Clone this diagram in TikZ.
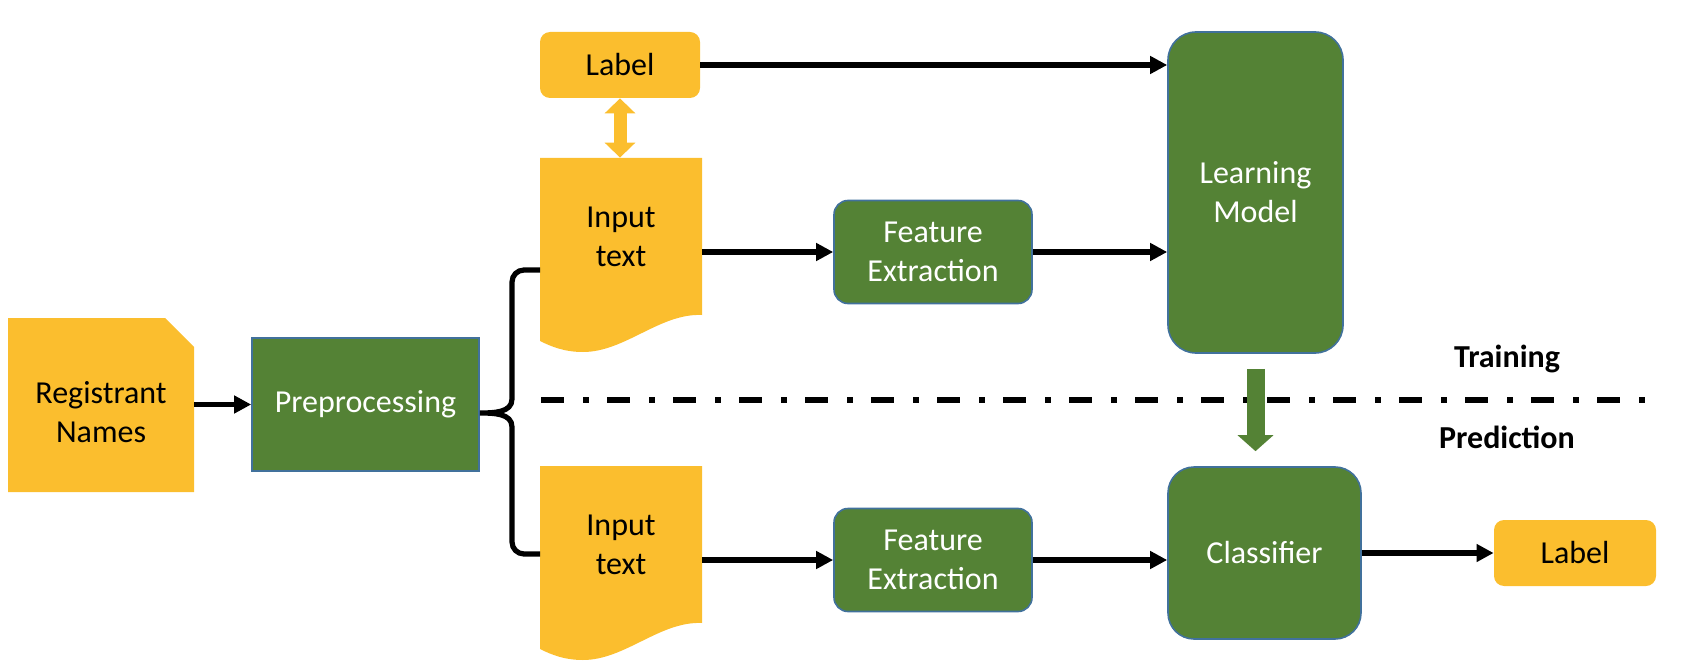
\documentclass[tikz,border=0pt]{standalone}
\usepackage{fontspec}
\setmainfont{Carlito}
\usetikzlibrary{positioning, arrows.meta}
\definecolor{docyellow}{HTML}{FBBE2E}
\definecolor{boxgreen}{HTML}{548235}
\definecolor{edgeblue}{HTML}{41719C}
\newcommand{\diagfont}{\fontsize{16}{19.5}\selectfont}

\begin{document}
\begin{tikzpicture}[x=0.5pt, y=-0.5pt, font=\diagfont]
        % Define styles for shapes
        \tikzstyle{greenbox} = [fill=boxgreen, draw=edgeblue, line width=0.8pt, text=white, align=center]
        \tikzstyle{yellowbox} = [fill=docyellow, rounded corners=5pt, minimum width=80pt, minimum height=33pt]
        \tikzstyle{textbox} = [align=center, inner sep=0pt, minimum width=81pt, minimum height=78.5pt]
        \tikzstyle{flow} = [-{Triangle[length=8.5pt, width=8.5pt]}, line width=2.6pt]
        \useasboundingbox (0,0) rectangle (1686,668);

        % Yellow documents behind the texts
        \fill[docyellow] (8,318) -- (165,318) -- (194,347) -- (194,492) -- (8,492) -- cycle;
        \foreach \y in {158, 466} {
            \fill[docyellow] (540,\y) -- (702,\y) -- (702,\y+157)
                .. controls (660,\y+155) and (625,\y+194) .. (583,\y+194)
                .. controls (565,\y+194) and (552,\y+189) .. (540,\y+183) -- cycle;
        }

        % Draw shapes
        \node[textbox, minimum width=93pt, minimum height=87pt] (names) at (101,412) {Registrant\\Names};
        \node[greenbox, minimum width=113.5pt, minimum height=66.5pt] (prep) at (365.5,404.5) {Preprocessing};
        \node[yellowbox] (label1) at (620,65) {Label};
        \node[textbox] (inTop) at (621,236.5) {Input\\text};
        \node[textbox] (inBot) at (621,544.5) {Input\\text};
        \node[greenbox, rounded corners=7pt, minimum width=99pt, minimum height=51.5pt] (feTop) at (933,252) {Feature\\Extraction};
        \node[greenbox, rounded corners=7pt, minimum width=99pt, minimum height=51.5pt] (feBot) at (933,560) {Feature\\Extraction};
        \node[greenbox, rounded corners=14pt, minimum width=87.5pt, minimum height=160.5pt] (lm) at (1255.5,192.5) {Learning\\Model};
        \node[greenbox, rounded corners=13pt, minimum width=96.5pt, minimum height=86pt] (clf) at (1264.5,553) {Classifier};
        \node[yellowbox, minimum width=81pt] (label2) at (1575,553) {Label};
        \node[font=\diagfont\bfseries] (train) at (1507,359) {Training};
        \node[font=\diagfont\bfseries] (pred) at (1507,437) {Prediction};

        % Training / prediction separator
        \draw[line width=2.8pt, dash pattern=on 11.5pt off 9.5pt on 3pt off 9pt] (541,400) -- (1645,400);

        % Draw arrows
        \draw[flow] (names.east |- prep) -- (prep);
        \draw[flow] (inTop.east |- feTop) -- (feTop);
        \draw[flow] (feTop) -- (feTop -| lm.west);
        \draw[flow] (label1) -- (label1 -| lm.west);
        \draw[flow] (inBot.east |- feBot) -- (feBot);
        \draw[flow] (feBot) -- (feBot -| clf.west);
        \draw[flow] (clf) -- (label2);
        \draw[docyellow, line width=6.5pt, {Triangle[length=7.5pt, width=15pt]}-{Triangle[length=7.5pt, width=15pt]}]
            (label1.south) -- (label1.south |- inTop.north);
        \draw[boxgreen, line width=9pt, -{Triangle[length=8pt, width=17.5pt]}]
            ([yshift=-7.5pt]lm.south) -- ([yshift=7.5pt]lm.south |- clf.north);

        % Brace from preprocessing to both inputs
        \coordinate (braceTip) at ([yshift=-4.25pt]prep.east);
        \coordinate (braceTop) at (540,270);
        \coordinate (braceBot) at (540,554);
        \draw[line width=2.6pt] (braceTop) -- (524,270) to[out=180, in=90] (512,282) -- (512,399)
            to[out=-90, in=0] (braceTip) to[out=0, in=90] (512,427) -- (512,542)
            to[out=-90, in=180] (524,554) -- (braceBot);
    \end{tikzpicture}
\end{document}
